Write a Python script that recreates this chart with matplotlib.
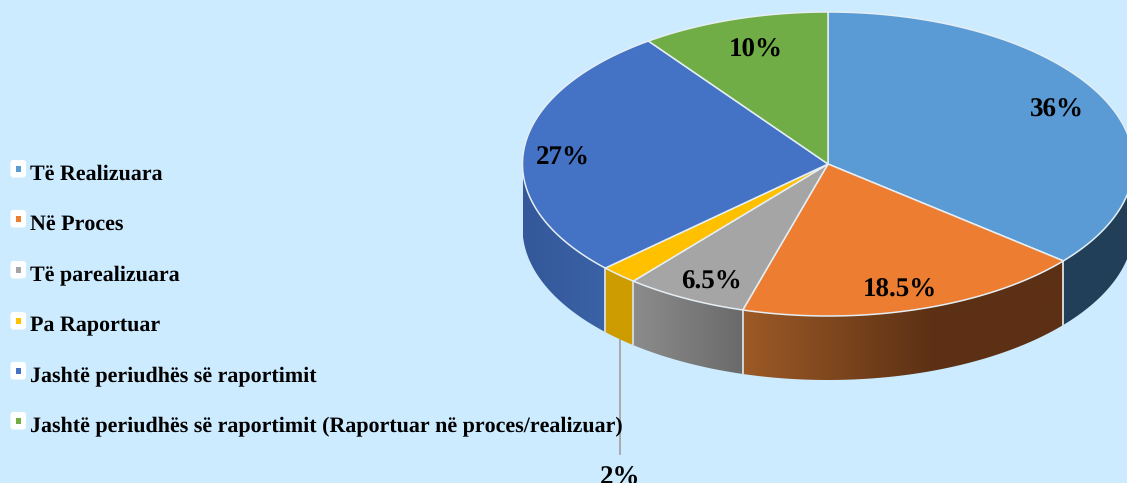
import numpy as np
import matplotlib
matplotlib.use("Agg")
import matplotlib.pyplot as plt
from matplotlib.colors import LinearSegmentedColormap
from matplotlib.patches import FancyBboxPatch, Rectangle, Polygon

plt.rcParams["text.hinting"] = "no_hinting"
plt.rcParams["text.hinting_factor"] = 1

categories = ["Të Realizuara", "Në Proces", "Të parealizuara", "Pa Raportuar",
              "Jashtë periudhës së raportimit",
              "Jashtë periudhës së raportimit (Raportuar në proces/realizuar)"]
values = [36, 18.5, 6.5, 2, 27, 10]
value_labels = ["36%", "18.5%", "6.5%", "2%", "27%", "10%"]

top_colors = ["#5B9BD5", "#ED7D31", "#A5A5A5", "#FFC000", "#4472C4", "#70AD47"]
side_left = ["#223F58", "#9C5A26", "#8C8C8C", "#CC9C00", "#34589A", "#5A8A39"]
side_right = ["#223F58", "#5C3014", "#6A6A6A", "#CC9C00", "#3A62A6", "#5A8A39"]
side_reach = [1, 0.6, 1, 1, 1, 1]
label_pos = [(1057, 110.5), (900, 290.5), (711, 282.5), (620, 478), (563, 158), (756, 50.5)]
legend_y = [171, 221, 272, 323, 373, 423]

BG = "#CCEBFF"
CX, CY, RX, RY, DEPTH = 828, 164, 305.5, 152, 64
W, H = 1127, 483

fig = plt.figure(figsize=(W / 100, H / 100), dpi=100, facecolor=BG)
ax = fig.add_axes([0, 0, 1, 1])
font = "Liberation Serif"


def rim(theta):
    return CX + RX * np.sin(theta), CY - RY * np.cos(theta)


bounds = np.radians(np.concatenate([[0], np.cumsum(values)]) / np.sum(values) * 360)

# side walls (visible on the front half only), a horizontal gradient clipped to each wall
for i in range(len(values)):
    a = max(bounds[i], np.pi / 2)
    b = min(bounds[i + 1], 3 * np.pi / 2)
    if a >= b:
        continue
    x, y = rim(np.linspace(a, b, 120))
    cmap = LinearSegmentedColormap.from_list(
        "wall", [(0, side_left[i]), (side_reach[i], side_right[i]), (1, side_right[i])]
        if side_reach[i] < 1 else [side_left[i], side_right[i]])
    outline = Polygon(np.c_[np.r_[x, x[::-1]], np.r_[y, y[::-1] + DEPTH]],
                      closed=True, transform=ax.transData, facecolor="none", edgecolor="none")
    ax.add_patch(outline)
    im = ax.imshow(np.linspace(0, 1, 256)[None, :], cmap=cmap, aspect="auto",
                   extent=(x.min(), x.max(), y.max() + DEPTH, y.min()), zorder=2,
                   interpolation="bilinear")
    im.set_clip_path(outline)
    if bounds[i] >= np.pi / 2:
        ax.plot([x[0], x[0]], [y[0], y[0] + DEPTH], color="#D9D9D9", lw=1.1, zorder=3)
    if bounds[i + 1] <= 3 * np.pi / 2:
        ax.plot([x[-1], x[-1]], [y[-1], y[-1] + DEPTH], color="#D9D9D9", lw=1.1, zorder=3)

# top face
for i in range(len(values)):
    t = np.linspace(bounds[i], bounds[i + 1], 160)
    x, y = rim(t)
    ax.fill(np.r_[CX, x], np.r_[CY, y], facecolor=top_colors[i],
            edgecolor="#E4EEF4", lw=1.1, joinstyle="round", zorder=4)

# leader line of the small slice
mid = (bounds[3] + bounds[4]) / 2
lx, ly = rim(mid)
ax.plot([lx + 0.7, lx + 0.7], [ly + DEPTH, 454], color="#A6A6A6", lw=1.3, zorder=1)

for lab, (x, y) in zip(value_labels, label_pos):
    ax.text(x, y, lab, family=font, weight="bold", fontsize=19.5, color="black",
            ha="center", va="center", zorder=6)

# legend
for name, col, y in zip(categories, top_colors, legend_y):
    ax.add_patch(FancyBboxPatch((11, y - 10.5), 14.5, 16.5, boxstyle="round,pad=0,rounding_size=2.5",
                                facecolor="white", edgecolor="white", lw=0.8, zorder=5))
    ax.add_patch(Rectangle((16, y - 5), 4.5, 6, facecolor=col, edgecolor="none", zorder=6))
    ax.text(29.5, y + 3, name, family=font, weight="bold", fontsize=15.7, color="black",
            ha="left", va="center", zorder=6)

ax.set_xlim(0, W)
ax.set_ylim(H, 0)
ax.axis("off")
fig.savefig("out.png", dpi=100, facecolor=BG)
